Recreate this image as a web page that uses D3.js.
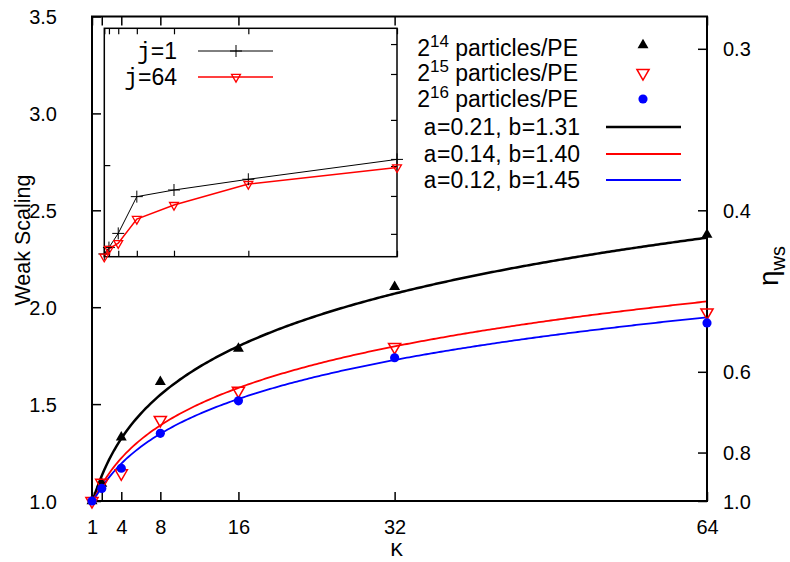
<!DOCTYPE html>
<html><head><meta charset="utf-8">
<script src="https://cdn.jsdelivr.net/npm/d3@7"></script>
<style>
body{margin:0;background:#fff;}
svg{display:block;}
text{font-family:"Liberation Sans",Arial,sans-serif;}
.mono{font-family:"Liberation Mono","Courier New",monospace;}
</style></head>
<body>
<svg id="chart" width="790" height="562"></svg>
<script>
// ---- data ----
const K = [1, 2, 4, 8, 16, 32, 64];
const ws14 = [1.0, 1.09, 1.328, 1.615, 1.787, 2.105, 2.375];
const ws15 = [1.0, 1.094, 1.143, 1.418, 1.569, 1.795, 1.973];
const ws16 = [1.0, 1.065, 1.169, 1.349, 1.517, 1.739, 1.919];
const fitA = [0.21, 0.14, 0.12];
const fitB = [1.31, 1.40, 1.45];
const yTicks = [1.0, 1.5, 2.0, 2.5, 3.0, 3.5];
const etaTicks = [0.3, 0.4, 0.6, 0.8, 1.0];
const xTicks = [1, 2, 4, 8, 16, 32, 64];
const xTickLabels = ["1", "", "4", "8", "16", "32", "64"];
// inset (no labelled axis; relative units 0-100)
const insetJ1 = [1.2, 4.0, 10.2, 26.3, 29.2, 33.9, 42.6];
const insetJ64 = [0.0, 3.4, 5.9, 16.5, 22.6, 31.8, 39.1];
const insetLeftTicks = [4.7, 40.1];
const insetRightTicks = [10.0, 26.6, 39.7, 59.9, 80.0, 93.1];

const svg = d3.select("#chart");
const L = 92, R = 707, T = 16.5, B = 501;
const x = d3.scaleLinear().domain([1, 64]).range([L, R]);
const y = d3.scaleLinear().domain([1, 3.5]).range([B, T]);

const colors = ["#000000", "#ff0000", "#0000ff"];
const FS = 20, LFS = 23;

// fit curves: WS = 1 + a * ln(K)^b
const kFine = d3.range(1, 64.0001, 0.25);
const line = d3.line().x(d => x(d[0])).y(d => y(d[1]));
fitA.forEach((a, i) => {
  const b = fitB[i];
  const pts = kFine.map(k => [k, 1 + a * Math.pow(Math.log(k), b)]);
  svg.append("path").attr("d", line(pts)).attr("fill", "none")
    .attr("stroke", colors[i]).attr("stroke-width", i === 0 ? 2.5 : 1.8);
});

// axes ticks
const gx = svg.append("g").attr("transform", `translate(0,${B})`)
  .call(d3.axisBottom(x).tickValues(xTicks).tickSize(-9).tickPadding(19)
    .tickFormat((d, i) => xTickLabels[i]));
const gxt = svg.append("g").attr("transform", `translate(0,${T})`)
  .call(d3.axisTop(x).tickValues(xTicks).tickSize(-9).tickFormat(""));
const gy = svg.append("g").attr("transform", `translate(${L},0)`)
  .call(d3.axisLeft(y).tickValues(yTicks).tickSize(-9).tickPadding(35)
    .tickFormat(d3.format(".1f")));
const gy2 = svg.append("g").attr("transform", `translate(${R},0)`)
  .call(d3.axisRight(y).tickValues(etaTicks.map(e => 1 / e)).tickSize(-9).tickPadding(16)
    .tickFormat((d, i) => etaTicks[i].toFixed(1)));
[gx, gxt, gy, gy2].forEach(g => {
  g.select(".domain").remove();
  g.selectAll(".tick line").attr("stroke", "#000").attr("stroke-width", 1.5);
  g.selectAll("text").attr("font-size", FS).attr("fill", "#000")
    .attr("font-family", "Liberation Sans, Arial, sans-serif");
});
gy.selectAll("text").attr("dy", "0.35em");
gy2.selectAll("text").attr("dy", "0.35em");

// border
svg.append("rect").attr("x", L).attr("y", T).attr("width", R - L).attr("height", B - T)
  .attr("fill", "none").attr("stroke", "#000").attr("stroke-width", 2);

// axis labels
svg.append("text").attr("transform", "translate(22,240) rotate(-90)")
  .attr("text-anchor", "middle").attr("dy", "0.35em").attr("font-size", 21.5).text("Weak Scaling");
svg.append("text").attr("class", "mono").attr("x", (L + R) / 2 - 3).attr("y", 556)
  .attr("text-anchor", "middle").attr("font-size", 21).text("K");
const eta = svg.append("text").attr("transform", "translate(778,266) rotate(-90)")
  .attr("text-anchor", "middle").attr("font-size", 28);
eta.append("tspan").text("η");
eta.append("tspan").attr("dy", 7).attr("font-size", 20).text("ws");

// data markers
const triUp = d3.symbol().type(d3.symbolTriangle).size(52)();
const triDn = d3.symbol().type(d3.symbolTriangle).size(64)();
const circ = d3.symbol().type(d3.symbolCircle).size(66)();
const series = [ws14, ws15, ws16];
function drawMarker(sel, idx) {
  if (idx === 0) sel.attr("d", triUp).attr("fill", "#000");
  else if (idx === 1) sel.attr("d", triDn).attr("fill", "none").attr("stroke", "#ff0000").attr("stroke-width", 1.5);
  else sel.attr("d", circ).attr("fill", "#0000ff");
}
series.forEach((s, i) => {
  svg.append("g").selectAll("path").data(K).join("path")
    .attr("transform", (k, j) => `translate(${x(k)},${y(s[j])})` + (i === 1 ? " rotate(180)" : ""))
    .call(drawMarker, i);
});

// ---- legend ----
const legRows = [48, 73, 99, 127, 154, 180];
const legTextX = 578, legMarkX = 643, legLine = [606, 681];
const exps = ["14", "15", "16"];
exps.forEach((e, i) => {
  const t = svg.append("text").attr("x", legTextX).attr("y", legRows[i]).attr("dy", "0.35em")
    .attr("text-anchor", "end").attr("font-size", LFS);
  t.append("tspan").text("2");
  t.append("tspan").attr("dy", -9).attr("font-size", 17).text(e);
  t.append("tspan").attr("dy", 9).text(" particles/PE");
  svg.append("path").attr("transform", `translate(${legMarkX},${legRows[i] - (i === 0 ? 3 : 0)})` + (i === 1 ? " rotate(180)" : ""))
    .call(drawMarker, i);
});
fitA.forEach((a, i) => {
  const r = legRows[3 + i];
  const t = svg.append("text").attr("x", legTextX + 2).attr("y", r).attr("dy", "0.35em")
    .attr("text-anchor", "end").attr("font-size", LFS);
  t.append("tspan").attr("class", "mono").text("a");
  t.append("tspan").text("=" + a.toFixed(2) + ", ");
  t.append("tspan").attr("class", "mono").text("b");
  t.append("tspan").text("=" + fitB[i].toFixed(2));
  svg.append("line").attr("x1", legLine[0]).attr("x2", legLine[1]).attr("y1", r).attr("y2", r)
    .attr("stroke", colors[i]).attr("stroke-width", i === 0 ? 2.5 : 1.8);
});

// ---- inset ----
const iL = 104.3, iR = 397, iT = 28.3, iB = 256.7;
const xi = d3.scaleLinear().domain([1, 64]).range([iL, iR]);
const yi = d3.scaleLinear().domain([0, 100]).range([iB, iT]);
svg.append("rect").attr("x", iL).attr("y", iT).attr("width", iR - iL).attr("height", iB - iT)
  .attr("fill", "#fff").attr("stroke", "#000").attr("stroke-width", 1.5);
const gxi = svg.append("g").attr("transform", `translate(0,${iB})`)
  .call(d3.axisBottom(xi).tickValues(xTicks).tickSize(-6).tickFormat(""));
const gxit = svg.append("g").attr("transform", `translate(0,${iT})`)
  .call(d3.axisTop(xi).tickValues(xTicks).tickSize(-6).tickFormat(""));
const gyil = svg.append("g").attr("transform", `translate(${iL},0)`)
  .call(d3.axisLeft(yi).tickValues(insetLeftTicks).tickSize(-6).tickFormat(""));
const gyir = svg.append("g").attr("transform", `translate(${iR},0)`)
  .call(d3.axisRight(yi).tickValues(insetRightTicks).tickSize(-6).tickFormat(""));
[gxi, gxit, gyil, gyir].forEach(g => { g.select(".domain").remove(); g.selectAll(".tick line").attr("stroke", "#000").attr("stroke-width", 1.2); });
const iline = d3.line().x((d, j) => xi(K[j])).y(d => yi(d));
svg.append("path").attr("d", iline(insetJ1)).attr("fill", "none").attr("stroke", "#000").attr("stroke-width", 1);
svg.append("path").attr("d", iline(insetJ64)).attr("fill", "none").attr("stroke", "#ff0000").attr("stroke-width", 1.5);
function plusMark(sel) {
  sel.attr("d", "M-6,0H6M0,-6V6").attr("stroke", "#000").attr("stroke-width", 1).attr("fill", "none");
}
const smallDn = d3.symbol().type(d3.symbolTriangle).size(34)();
function dnMark(sel) {
  sel.attr("d", smallDn).attr("fill", "none").attr("stroke", "#ff0000").attr("stroke-width", 1.3);
}
svg.append("g").selectAll("path").data(insetJ1).join("path")
  .attr("transform", (d, j) => `translate(${xi(K[j])},${yi(d)})`).call(plusMark);
svg.append("g").selectAll("path").data(insetJ64).join("path")
  .attr("transform", (d, j) => `translate(${xi(K[j])},${yi(d)}) rotate(180)`).call(dnMark);
// inset legend
const iRows = [51, 77];
const iLabels = ["1", "64"];
iLabels.forEach((v, i) => {
  const t = svg.append("text").attr("x", 177).attr("y", iRows[i]).attr("dy", "0.35em")
    .attr("text-anchor", "end").attr("font-size", LFS);
  t.append("tspan").attr("class", "mono").text("j");
  t.append("tspan").text("=" + v);
  svg.append("line").attr("x1", 198).attr("x2", 273).attr("y1", iRows[i]).attr("y2", iRows[i])
    .attr("stroke", i === 0 ? "#000" : "#ff0000").attr("stroke-width", i === 0 ? 1 : 1.5);
  svg.append("path").attr("transform", `translate(236,${iRows[i]})` + (i === 1 ? " rotate(180)" : ""))
    .call(i === 0 ? plusMark : dnMark);
});
</script>
</body></html>
